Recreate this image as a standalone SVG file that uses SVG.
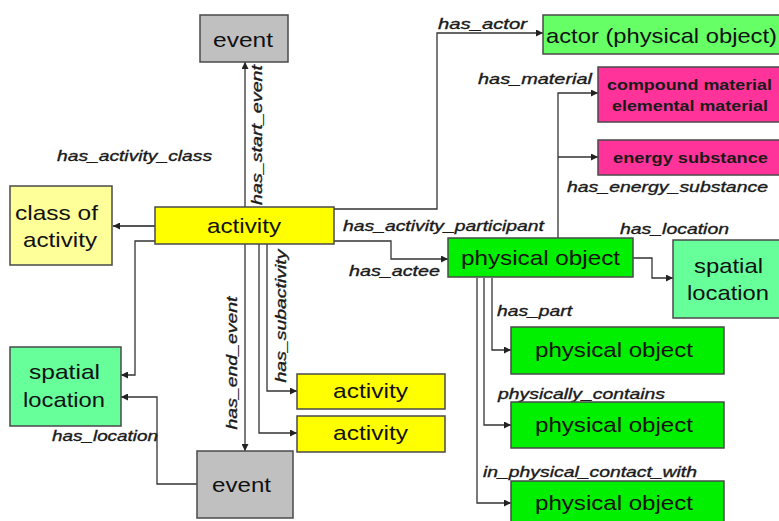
<svg xmlns="http://www.w3.org/2000/svg" width="779" height="521" viewBox="0 0 779 521">
  <style>
    .box { stroke: #4a4a4a; stroke-width: 1.5; }
    .ev { fill: #c0c0c0; }
    .cls { fill: #ffff99; }
    .act { fill: #ffff00; }
    .actor { fill: #66ff66; }
    .mat { fill: #ff3399; }
    .po { fill: #00f000; }
    .loc { fill: #66ff99; }
    .t { font-family: "Liberation Sans", Arial, sans-serif; font-size: 21px; fill: #111; }
    .tb { font-family: "Liberation Sans", Arial, sans-serif; font-size: 15px; font-weight: bold; fill: #1a1a1a; }
    .lbl { font-family: "Liberation Sans", Arial, sans-serif; font-size: 15px; font-style: italic; fill: #1a1a1a; stroke: #1a1a1a; stroke-width: 0.35; }
    .c { fill: none; stroke: #333; stroke-width: 1.3; }
    .c2 { fill: none; stroke: #555; stroke-width: 2.2; }
  </style>
  <defs>
    <marker id="arr" viewBox="0 0 10 10" refX="10" refY="5" markerWidth="7" markerHeight="7" markerUnits="userSpaceOnUse" orient="auto">
      <path d="M0,0 L10,5 L0,10 z" fill="#222"/>
    </marker>
  </defs>

  <rect width="779" height="521" fill="#ffffff"/>

  <!-- connectors -->
  <g id="connectors">
    <path class="c" d="M245,207 V62" marker-end="url(#arr)"/>
    <path class="c2" d="M155,226 H113" marker-end="url(#arr)"/>
    <path class="c" d="M155,241 H135 V375 H121" marker-end="url(#arr)"/>
    <path class="c" d="M197,484 H157 V397 H121" marker-end="url(#arr)"/>
    <path class="c" d="M245,244 V451" marker-end="url(#arr)"/>
    <path class="c" d="M267,244 V391 H297" marker-end="url(#arr)"/>
    <path class="c" d="M259,244 V433 H297" marker-end="url(#arr)"/>
    <path class="c" d="M334,209 H437 V33 H543" marker-end="url(#arr)"/>
    <path class="c" d="M334,241 H391 V259 H448" marker-end="url(#arr)"/>
    <path class="c" d="M558,238 V93 H598" marker-end="url(#arr)"/>
    <path class="c" d="M558,157 H598" marker-end="url(#arr)"/>
    <path class="c" d="M633,258 H652 V278 H673" marker-end="url(#arr)"/>
    <path class="c" d="M492,278 V350 H511" marker-end="url(#arr)"/>
    <path class="c" d="M484,278 V425 H511" marker-end="url(#arr)"/>
    <path class="c" d="M477,278 V503 H511" marker-end="url(#arr)"/>

    <!-- relation labels -->
    <text class="lbl" x="57" y="161" textLength="155" lengthAdjust="spacingAndGlyphs">has_activity_class</text>
    <text class="lbl" transform="translate(262,135) rotate(-90)" text-anchor="middle" textLength="140" lengthAdjust="spacingAndGlyphs">has_start_event</text>
    <text class="lbl" transform="translate(237,363) rotate(-90)" text-anchor="middle" textLength="133" lengthAdjust="spacingAndGlyphs">has_end_event</text>
    <text class="lbl" transform="translate(286,316) rotate(-90)" text-anchor="middle" textLength="133" lengthAdjust="spacingAndGlyphs">has_subactivity</text>
    <text class="lbl" x="438" y="29" textLength="89" lengthAdjust="spacingAndGlyphs">has_actor</text>
    <text class="lbl" x="478" y="84" textLength="114" lengthAdjust="spacingAndGlyphs">has_material</text>
    <text class="lbl" x="567" y="192" textLength="201" lengthAdjust="spacingAndGlyphs">has_energy_substance</text>
    <text class="lbl" x="343" y="231" textLength="201" lengthAdjust="spacingAndGlyphs">has_activity_participant</text>
    <text class="lbl" x="349" y="276" textLength="91" lengthAdjust="spacingAndGlyphs">has_actee</text>
    <text class="lbl" x="620" y="234" textLength="109" lengthAdjust="spacingAndGlyphs">has_location</text>
    <text class="lbl" x="497" y="316" textLength="75" lengthAdjust="spacingAndGlyphs">has_part</text>
    <text class="lbl" x="498" y="399" textLength="167" lengthAdjust="spacingAndGlyphs">physically_contains</text>
    <text class="lbl" x="483" y="477" textLength="214" lengthAdjust="spacingAndGlyphs">in_physical_contact_with</text>
    <text class="lbl" x="52" y="441" textLength="106" lengthAdjust="spacingAndGlyphs">has_location</text>
  </g>

  <!-- nodes -->
  <g id="event-start">
    <rect class="box ev" x="200" y="15" width="88" height="47"/>
    <text class="t" x="213" y="47" textLength="60" lengthAdjust="spacingAndGlyphs">event</text>
  </g>
  <g id="class-of-activity">
    <rect class="box cls" x="10" y="186" width="102" height="79"/>
    <text class="t" x="15" y="220" textLength="83" lengthAdjust="spacingAndGlyphs">class of</text>
    <text class="t" x="23" y="247" textLength="74" lengthAdjust="spacingAndGlyphs">activity</text>
  </g>
  <g id="activity">
    <rect class="box act" x="155" y="207" width="179" height="37"/>
    <text class="t" x="207" y="233" textLength="74" lengthAdjust="spacingAndGlyphs">activity</text>
  </g>
  <g id="actor">
    <rect class="box actor" x="543" y="15" width="240" height="39"/>
    <text class="t" x="546" y="43" textLength="231" lengthAdjust="spacingAndGlyphs">actor (physical object)</text>
  </g>
  <g id="material">
    <rect class="box mat" x="598" y="67" width="185" height="55"/>
    <text class="tb" x="607" y="90" textLength="165" lengthAdjust="spacingAndGlyphs">compound material</text>
    <text class="tb" x="612" y="111" textLength="156" lengthAdjust="spacingAndGlyphs">elemental material</text>
  </g>
  <g id="energy-substance">
    <rect class="box mat" x="598" y="140" width="185" height="35"/>
    <text class="tb" x="613" y="163" textLength="155" lengthAdjust="spacingAndGlyphs">energy substance</text>
  </g>
  <g id="physical-object">
    <rect class="box po" x="448" y="238" width="185" height="39"/>
    <text class="t" x="461" y="265" textLength="159" lengthAdjust="spacingAndGlyphs">physical object</text>
  </g>
  <g id="spatial-location-right">
    <rect class="box loc" x="673" y="240" width="110" height="78"/>
    <text class="t" x="694" y="273" textLength="69" lengthAdjust="spacingAndGlyphs">spatial</text>
    <text class="t" x="687" y="300" textLength="82" lengthAdjust="spacingAndGlyphs">location</text>
  </g>
  <g id="part">
    <rect class="box po" x="511" y="327" width="213" height="47"/>
    <text class="t" x="535" y="357" textLength="158" lengthAdjust="spacingAndGlyphs">physical object</text>
  </g>
  <g id="contained">
    <rect class="box po" x="511" y="402" width="213" height="46"/>
    <text class="t" x="535" y="432" textLength="158" lengthAdjust="spacingAndGlyphs">physical object</text>
  </g>
  <g id="in-contact">
    <rect class="box po" x="511" y="481" width="213" height="46"/>
    <text class="t" x="535" y="510" textLength="158" lengthAdjust="spacingAndGlyphs">physical object</text>
  </g>
  <g id="spatial-location-left">
    <rect class="box loc" x="10" y="347" width="111" height="79"/>
    <text class="t" x="29" y="379" textLength="71" lengthAdjust="spacingAndGlyphs">spatial</text>
    <text class="t" x="23" y="407" textLength="82" lengthAdjust="spacingAndGlyphs">location</text>
  </g>
  <g id="subactivity-1">
    <rect class="box act" x="297" y="374" width="148" height="35"/>
    <text class="t" x="333" y="398" textLength="75" lengthAdjust="spacingAndGlyphs">activity</text>
  </g>
  <g id="subactivity-2">
    <rect class="box act" x="297" y="416" width="148" height="36"/>
    <text class="t" x="333" y="440" textLength="75" lengthAdjust="spacingAndGlyphs">activity</text>
  </g>
  <g id="event-end">
    <rect class="box ev" x="197" y="451" width="96" height="67"/>
    <text class="t" x="212" y="492" textLength="59" lengthAdjust="spacingAndGlyphs">event</text>
  </g>
</svg>
